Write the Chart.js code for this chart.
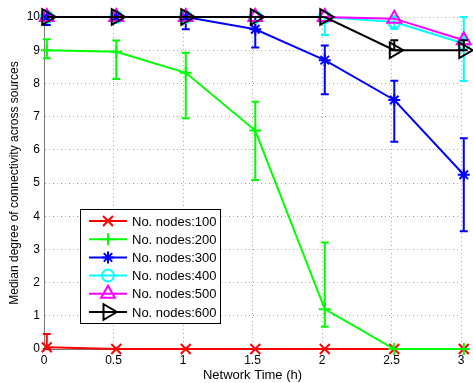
<!DOCTYPE html>
<html>
<head>
<meta charset="utf-8">
<script src="https://cdn.jsdelivr.net/npm/chart.js@4/dist/chart.umd.min.js"></script>
<style>
  html, body { margin: 0; padding: 0; background: #fff; }
</style>
</head>
<body>
<canvas id="degreeChart" width="473" height="383"></canvas>
<script>
// Network time (h) - the points sit slightly to the right of each tick
const timeH = [0.02, 0.52, 1.02, 1.52, 2.02, 2.52, 3.02];

const nodes100 = [0.05, 0, 0, 0, 0, 0, 0];
const nodes100Lo = [0, 0, 0, 0, 0, 0, 0];
const nodes100Hi = [0.45, 0, 0, 0, 0, 0, 0];

const nodes200 = [9.0, 8.95, 8.32, 6.58, 1.2, 0, 0];
const nodes200Lo = [8.76, 8.13, 6.95, 5.09, 0.67, 0, 0];
const nodes200Hi = [9.33, 9.29, 8.92, 7.45, 3.21, 0, 0];

const nodes300 = [10, 10, 10, 9.63, 8.7, 7.5, 5.25];
const nodes300Lo = [9.76, 10, 9.63, 9.08, 7.67, 6.24, 3.55];
const nodes300Hi = [10, 10, 10, 10, 9.14, 8.08, 6.35];

const nodes400 = [10, 10, 10, 10, 10, 9.85, 9.2];
const nodes400Lo = [10, 10, 10, 10, 9.46, 9.64, 8.07];
const nodes400Hi = [10, 10, 10, 10, 10, 10, 10];

const nodes500 = [10, 10, 10, 10, 10, 9.95, 9.3];

const nodes600 = [10, 10, 10, 10, 10, 9.0, 9.0];
const nodes600Lo = [10, 10, 10, 10, 10, 9.0, 9.0];
const nodes600Hi = [10, 10, 10, 10, 10, 9.3, 9.3];

const seriesLabels = ['No. nodes:100', 'No. nodes:200', 'No. nodes:300',
                      'No. nodes:400', 'No. nodes:500', 'No. nodes:600'];

Chart.defaults.font.family = '"Liberation Sans", Arial, sans-serif';
Chart.defaults.color = '#000';

function toPoints(vals) {
  return timeH.map((t, i) => ({ x: t, y: vals[i] }));
}

function makeSeries(i, vals, lo, hi, color, style, radius, rotation) {
  return {
    label: seriesLabels[i],
    data: toPoints(vals),
    errLo: lo,
    errHi: hi,
    borderColor: color,
    backgroundColor: color,
    borderWidth: 2,
    pointStyle: style,
    pointRadius: radius,
    pointHoverRadius: radius,
    pointRotation: rotation || 0,
    pointBorderColor: color,
    pointBackgroundColor: 'rgba(0,0,0,0)',
    pointBorderWidth: 2,
    tension: 0,
    clip: false,
    order: 6 - i
  };
}

// vertical error bars with caps, drawn under each series
const errorBars = {
  id: 'errorBars',
  beforeDatasetDraw(chart, args) {
    const ds = chart.data.datasets[args.index];
    if (!ds.errLo) return;
    const xs = chart.scales.x, ys = chart.scales.y;
    const ctx = chart.ctx;
    ctx.save();
    ctx.strokeStyle = ds.borderColor;
    ctx.lineWidth = 2;
    ds.data.forEach((p, i) => {
      const lo = ds.errLo[i], hi = ds.errHi[i];
      if (lo === hi) return;
      const px = xs.getPixelForValue(p.x);
      const yl = ys.getPixelForValue(lo), yh = ys.getPixelForValue(hi);
      ctx.beginPath();
      ctx.moveTo(px, yl); ctx.lineTo(px, yh);
      ctx.moveTo(px - 4, yl); ctx.lineTo(px + 4, yl);
      ctx.moveTo(px - 4, yh); ctx.lineTo(px + 4, yh);
      ctx.stroke();
    });
    ctx.restore();
  }
};

// boxed legend inside the plot, lower left
const boxLegend = {
  id: 'boxLegend',
  afterDraw(chart) {
    const ctx = chart.ctx;
    const area = chart.chartArea;
    const left = area.left + 36, top = area.top + 192;
    const w = 140, h = 114, rowH = 18.2;
    ctx.save();
    ctx.fillStyle = '#fff';
    ctx.fillRect(left, top, w, h);
    ctx.strokeStyle = '#000';
    ctx.lineWidth = 1;
    ctx.strokeRect(left + 0.5, top + 0.5, w, h);
    ctx.font = '13px "Liberation Sans", Arial, sans-serif';
    ctx.textBaseline = 'middle';
    chart.data.datasets.forEach((ds, i) => {
      const cy = top + 12 + i * rowH;
      ctx.strokeStyle = ds.borderColor;
      ctx.lineWidth = 2;
      ctx.beginPath();
      ctx.moveTo(left + 9, cy);
      ctx.lineTo(left + 47, cy);
      ctx.stroke();
      ctx.fillStyle = 'rgba(0,0,0,0)';
      Chart.helpers.drawPoint(ctx, {
        pointStyle: ds.pointStyle,
        radius: ds.pointRadius,
        rotation: ds.pointRotation,
        borderWidth: 2
      }, left + 28, cy);
      ctx.fillStyle = '#000';
      ctx.fillText(ds.label, left + 52, cy + 1);
    });
    ctx.restore();
  }
};

const ctx = document.getElementById('degreeChart').getContext('2d');
new Chart(ctx, {
  type: 'line',
  data: {
    datasets: [
      makeSeries(0, nodes100, nodes100Lo, nodes100Hi, '#ff0000', 'crossRot', 7),
      makeSeries(1, nodes200, nodes200Lo, nodes200Hi, '#00ff00', 'cross', 6),
      makeSeries(2, nodes300, nodes300Lo, nodes300Hi, '#0000ff', 'star', 6),
      makeSeries(3, nodes400, nodes400Lo, nodes400Hi, '#00ffff', 'circle', 6),
      makeSeries(4, nodes500, null, null, '#ff00ff', 'triangle', 8),
      makeSeries(5, nodes600, nodes600Lo, nodes600Hi, '#000000', 'triangle', 9, 90)
    ]
  },
  options: {
    responsive: false,
    animation: false,
    layout: { padding: { left: 7, right: 12, top: 17, bottom: 0 } },
    plugins: {
      legend: { display: false },
      tooltip: { enabled: false }
    },
    scales: {
      x: {
        type: 'linear',
        min: 0,
        max: 3,
        afterFit(scale) { scale.height = 34; },
        ticks: {
          stepSize: 0.5,
          padding: 4,
          font: { size: 12 },
          callback: (v) => String(Number(v))
        },
        grid: { color: '#a8a8a8', drawTicks: false },
        border: { display: true, color: '#777', width: 1, dash: [1, 3] },
        title: { display: true, text: 'Network Time (h)', font: { size: 13 }, padding: 0 }
      },
      y: {
        min: 0,
        max: 10,
        afterFit(scale) { scale.width = 37; },
        ticks: { stepSize: 1, padding: 4, font: { size: 12 } },
        grid: { color: '#a8a8a8', drawTicks: false },
        border: { display: true, color: '#777', width: 1, dash: [1, 3] },
        title: { display: true, text: 'Median degree of connectivity across sources', font: { size: 12 }, padding: 0 }
      }
    }
  },
  plugins: [errorBars, boxLegend]
});
</script>
</body>
</html>
